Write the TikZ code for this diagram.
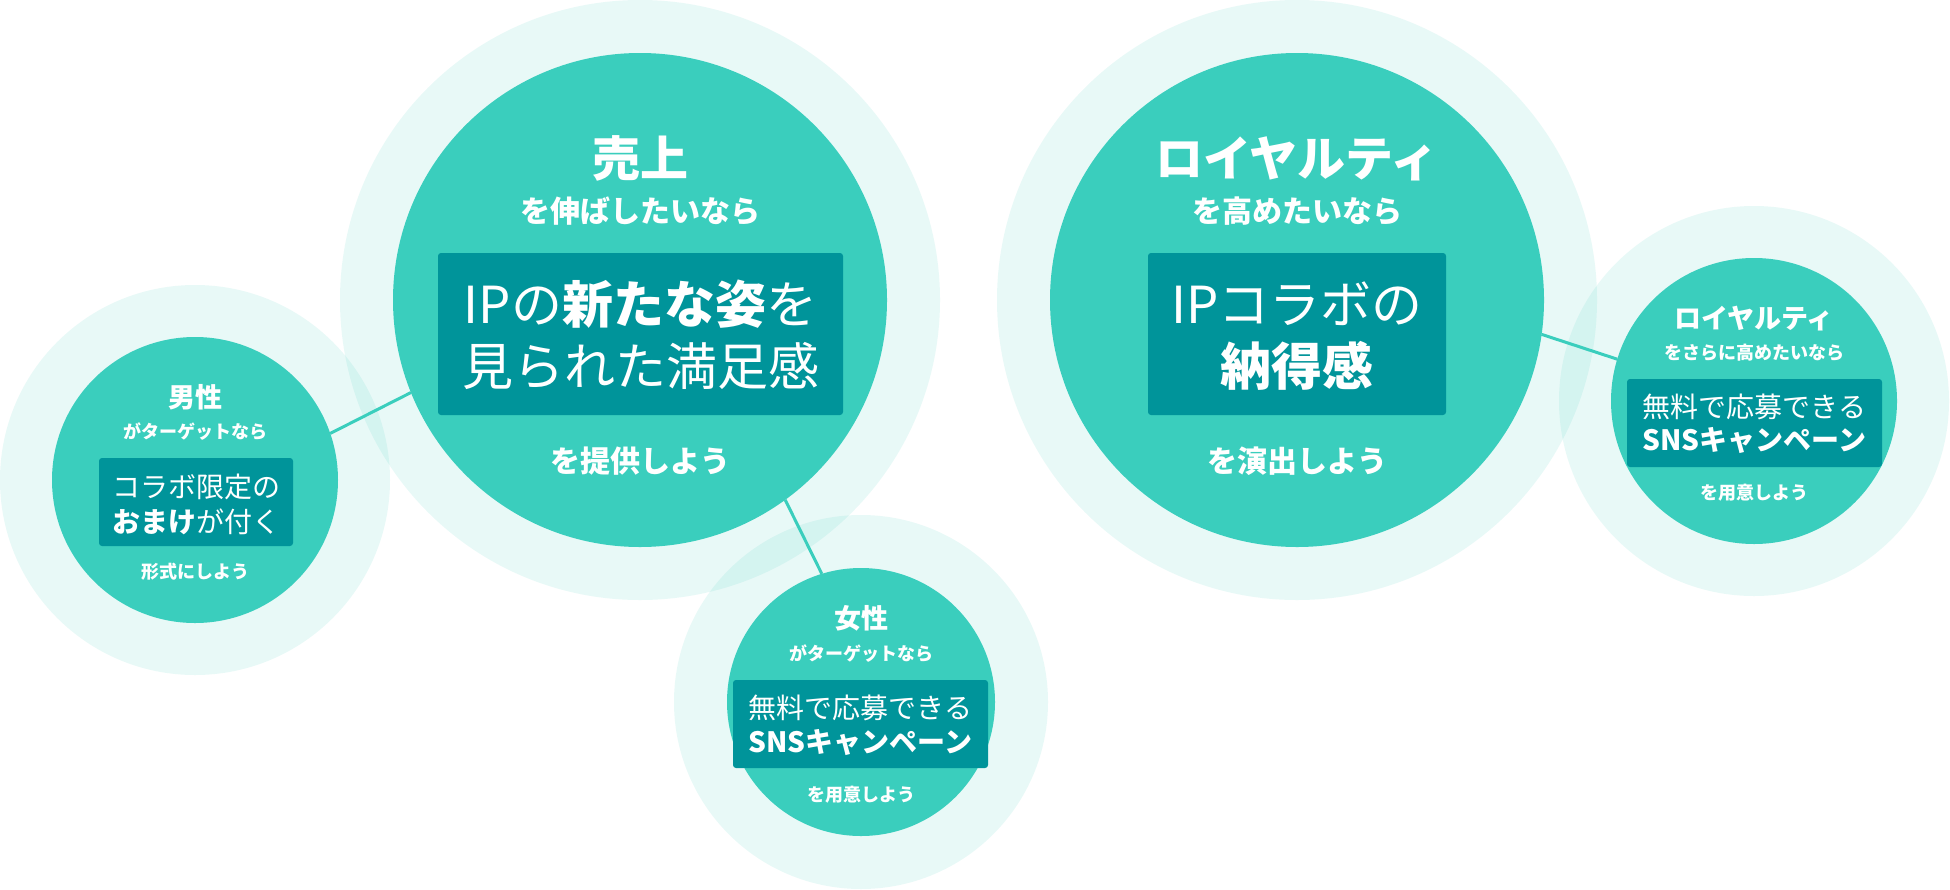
\documentclass[tikz,border=0pt]{standalone}
\usepackage{fontspec}
\setmainfont{Noto Sans CJK JP}
\definecolor{tealc}{HTML}{3ACEBD}
\definecolor{boxc}{HTML}{00949A}
\begin{document}
\begin{tikzpicture}[x=1pt,y=-1pt,
  halo/.style={circle, fill=tealc, fill opacity=0.115, draw=none, inner sep=0pt, outer sep=0pt, minimum size=#1},
  core/.style={circle, fill=tealc, draw=none, inner sep=0pt, outer sep=0pt, minimum size=#1},
  panel/.style 2 args={fill=boxc, rounded corners=3pt, inner sep=0pt, outer sep=0pt, minimum width=#1, minimum height=#2},
  link/.style={draw=tealc, line width=3pt},
  bigtitle/.style={text=white, font=\fontsize{48}{48}\selectfont\bfseries, anchor=base, yshift=-18.2pt, inner sep=0pt},
  bigsub/.style={text=white, font=\fontsize{30}{30}\selectfont\bfseries, anchor=base, yshift=-11.4pt, inner sep=0pt},
  bigbox/.style={text=white, font=\fontsize{51}{51}\selectfont, anchor=base, yshift=-19.4pt, inner sep=0pt},
  smalltitle/.style={text=white, font=\fontsize{27}{27}\selectfont\bfseries, anchor=base, yshift=-10.3pt, inner sep=0pt},
  smallsub/.style={text=white, font=\fontsize{18}{18}\selectfont\bfseries, anchor=base, yshift=-6.8pt, inner sep=0pt},
  smallbox/.style={text=white, font=\fontsize{28}{28}\selectfont, anchor=base, yshift=-10.6pt, inner sep=0pt}]
\useasboundingbox (0,0) rectangle (1950,889);
\fill[white] (0,0) rectangle (1950,889);
% halos
\node[halo=600pt] (h1) at (640,300) {};
\node[halo=600pt] (h4) at (1297,300) {};
\node[halo=390pt] (h2) at (195,480) {};
\node[halo=374pt] (h3) at (861,702) {};
\node[halo=390pt] (h5) at (1754,401) {};
% cores
\node[core=494pt] (c1) at (640,300) {};
\node[core=494pt] (c4) at (1297,300) {};
\node[core=286pt] (c2) at (195,480) {};
\node[core=268pt] (c3) at (861,702) {};
\node[core=286pt] (c5) at (1754,401) {};
% links
\draw[link] (c1.202.5) -- (c2.19.9);
\draw[link] (c1.-54.7) -- (c3.107.6);
\draw[link] (c4.-8.6) -- (c5.163.7);
% panels
\node[panel={405pt}{162pt}] (b1) at (640.5,334) {};
\node[panel={298pt}{162pt}] (b4) at (1297,334) {};
\node[panel={194pt}{88pt}] (b2) at (196,502) {};
\node[panel={255pt}{88pt}] (b3) at (860.5,724) {};
\node[panel={255pt}{88pt}] (b5) at (1754.5,423) {};
% circle 1
\node[bigtitle] (t1) at (640,158) {売上};
\node[bigsub] (s1) at (640,211.5) {を伸ばしたいなら};
\node[bigbox] (l1a) at (640.5,304.5) {IPの\textbf{新たな姿}を};
\node[bigbox] (l1b) at (640.5,366) {見られた満足感};
\node[bigsub] (e1) at (640,461) {を提供しよう};
% circle 4
\node[bigtitle] (t4) at (1297,158) {ロイヤルティ};
\node[bigsub] (s4) at (1297,211.5) {を高めたいなら};
\node[bigbox] (l4a) at (1297,304.5) {IPコラボの};
\node[bigbox] (l4b) at (1297,366) {\textbf{納得感}};
\node[bigsub] (e4) at (1297,461) {を演出しよう};
% circle 2
\node[smalltitle] (t2) at (195,397) {男性};
\node[smallsub] (s2) at (195,432) {がターゲットなら};
\node[smallbox] (l2a) at (196,487) {コラボ限定の};
\node[smallbox] (l2b) at (196,522) {\textbf{おまけ}が付く};
\node[smallsub] (e2) at (195,572) {形式にしよう};
% circle 3
\node[smalltitle] (t3) at (861,618) {女性};
\node[smallsub] (s3) at (861,654) {がターゲットなら};
\node[smallbox] (l3a) at (860.5,708) {無料で応募できる};
\node[smallbox] (l3b) at (860.5,742) {\textbf{SNSキャンペーン}};
\node[smallsub] (e3) at (861,795) {を用意しよう};
% circle 5
\node[smalltitle] (t5) at (1754,318) {ロイヤルティ};
\node[smallsub] (s5) at (1754,353) {をさらに高めたいなら};
\node[smallbox] (l5a) at (1754.5,407) {無料で応募できる};
\node[smallbox] (l5b) at (1754.5,440) {\textbf{SNSキャンペーン}};
\node[smallsub] (e5) at (1754,493) {を用意しよう};
\end{tikzpicture}
\end{document}
